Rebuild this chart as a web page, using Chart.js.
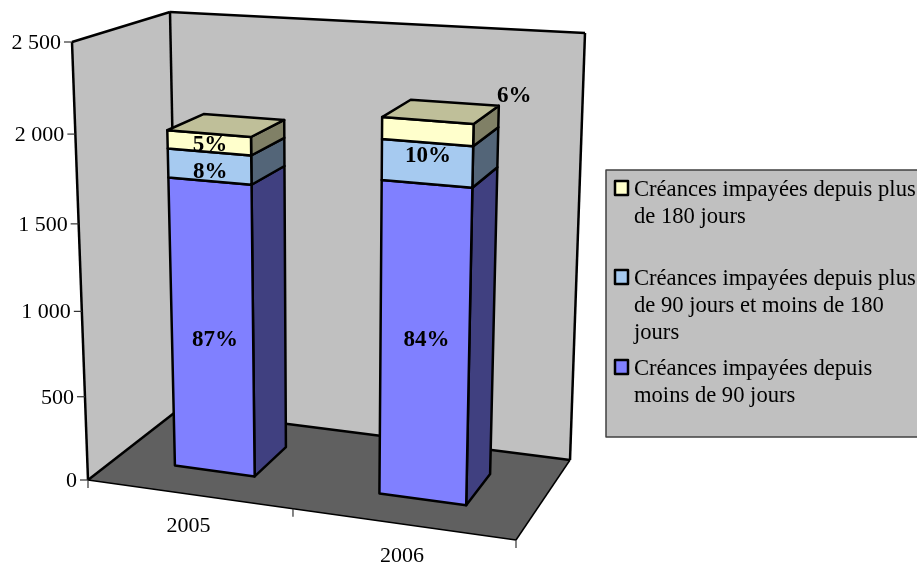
<!DOCTYPE html>
<html lang="fr">
<head>
<meta charset="utf-8">
<title>Créances impayées</title>
<style>
  html, body { margin: 0; background: #fff; overflow: hidden; }
  canvas { display: block; }
</style>
</head>
<body>
<canvas id="chart" width="917" height="562"></canvas>
<script src="https://cdn.jsdelivr.net/npm/chart.js@4"></script>
<script>
// Chart data

const years = ["2005", "2006"];
const under90 = [1713, 1802];
const from90to180 = [164, 224];
const over180 = [103, 119];
const tickLabels = ["0", "500", "1 000", "1 500", "2 000", "2 500"];

const legendUnder90 = ["Créances impayées depuis", "moins de 90 jours"];
const legendFrom90to180 = ["Créances impayées depuis plus", "de 90 jours et moins de 180", "jours"];
const legendOver180 = ["Créances impayées depuis plus", "de 180 jours"];


// Box geometry: corners of the floor and of the ceiling (front-left, front-right, back-right, back-left)

const FLOOR = [[88, 480], [516, 540], [570, 460], [178, 410]];
const CEIL = [[72, 42], [528, 75], [585, 33], [170, 12]];
const U_PERSPECTIVE = 1.088;
const V_PERSPECTIVE = 1.065;
const BAR_FRONT = 0.32;
const BAR_BACK = 0.72;
const FONT = '"Liberation Serif", "Times New Roman", serif';

function warp(t, k) {
  return t / (t + k * (1 - t));
}

function mix(a, b, t) {
  return [a[0] + (b[0] - a[0]) * t, a[1] + (b[1] - a[1]) * t];
}

// u: left to right, v: bottom to top, w: front to back, all 0..1
function project(u, v, w) {
  const uu = warp(u, U_PERSPECTIVE);
  const vv = warp(v, V_PERSPECTIVE);
  const low = mix(mix(FLOOR[0], FLOOR[1], uu), mix(FLOOR[3], FLOOR[2], uu), w);
  const high = mix(mix(CEIL[0], CEIL[1], uu), mix(CEIL[3], CEIL[2], uu), w);
  return mix(low, high, vv);
}

function quad(ctx, pts, fill, lineWidth) {
  ctx.beginPath();
  pts.forEach((p, i) => (i ? ctx.lineTo(p[0], p[1]) : ctx.moveTo(p[0], p[1])));
  ctx.closePath();
  ctx.fillStyle = fill;
  ctx.fill();
  if (lineWidth) {
    ctx.lineWidth = lineWidth;
    ctx.strokeStyle = "#000";
    ctx.stroke();
  }
}

function line(ctx, a, b, lineWidth, color) {
  ctx.beginPath();
  ctx.moveTo(a[0], a[1]);
  ctx.lineTo(b[0], b[1]);
  ctx.lineWidth = lineWidth;
  ctx.strokeStyle = color || "#000";
  ctx.stroke();
}


// Walls, floor, axes

function drawBox(chart) {
  const ctx = chart.ctx;
  const [fl, fr, br, bl] = FLOOR;
  const [tl, , tr, tb] = CEIL;

  quad(ctx, [tl, tb, bl, fl], "#C0C0C0");
  quad(ctx, [tb, tr, br, bl], "#C0C0C0");
  quad(ctx, [fl, fr, br, bl], "#606060");

  line(ctx, tl, tb, 2.5);
  line(ctx, tb, tr, 2.5);
  line(ctx, tr, br, 2.5);
  line(ctx, tl, fl, 2.5);
  line(ctx, tb, bl, 2.5);
  line(ctx, fl, bl, 2.5);
  line(ctx, bl, br, 2.5);
  line(ctx, br, fr, 1.5);
  line(ctx, fl, fr, 1.5);

  const xScale = chart.scales.x;
  const yScale = chart.scales.y;
  const area = chart.chartArea;

  ctx.font = "22px " + FONT;
  ctx.textAlign = "right";
  ctx.textBaseline = "middle";
  yScale.ticks.forEach((tick) => {
    const v = (area.bottom - yScale.getPixelForValue(tick.value)) / area.height;
    const p = project(0, v, 0);
    line(ctx, [p[0] - 8, p[1]], p, 1.2, "#333");
    ctx.fillStyle = "#000";
    ctx.fillText(tick.label, p[0] - 11, p[1] + 1);
  });

  [0, 0.5, 1].forEach((u) => {
    const p = project(u, 0, 0);
    line(ctx, p, [p[0], p[1] + 8], 1.2, "#333");
  });

  ctx.fillStyle = "#000";
  ctx.textAlign = "center";
  xScale.ticks.forEach((tick, i) => {
    const u = (xScale.getPixelForTick(i) - area.left) / area.width;
    const p = project(u, 0, 0);
    ctx.fillText(tick.label, p[0], p[1] + 32);
  });
}


// 3D bars, built on the bar elements computed by Chart.js

function drawBars(chart) {
  const ctx = chart.ctx;
  const area = chart.chartArea;
  const toU = (px) => (px - area.left) / area.width;
  const toV = (py) => (area.bottom - py) / area.height;

  ctx.lineJoin = "round";
  years.forEach((_, i) => {
    chart.data.datasets.forEach((ds, d) => {
      const bar = chart.getDatasetMeta(d).data[i];
      const u0 = toU(bar.x - bar.width / 2);
      const u1 = toU(bar.x + bar.width / 2);
      const v0 = toV(bar.base);
      const v1 = toV(bar.y);

      quad(ctx, [project(u1, v0, BAR_FRONT), project(u1, v0, BAR_BACK), project(u1, v1, BAR_BACK), project(u1, v1, BAR_FRONT)], ds.sideColor, 2.5);
      quad(ctx, [project(u0, v0, BAR_FRONT), project(u1, v0, BAR_FRONT), project(u1, v1, BAR_FRONT), project(u0, v1, BAR_FRONT)], ds.backgroundColor, 2.5);
      if (d === chart.data.datasets.length - 1) {
        quad(ctx, [project(u0, v1, BAR_FRONT), project(u1, v1, BAR_FRONT), project(u1, v1, BAR_BACK), project(u0, v1, BAR_BACK)], ds.topColor, 2.5);
      }
    });
  });
}


// Percent labels, nudged off the centre of the front face where they sit better

const labelNudge = [
  [[3, 11], [2, -5]],
  [[1, 6], [1, -7]],
  [[1, 2], [87, -36]],
];

function drawLabels(chart) {
  const ctx = chart.ctx;
  const area = chart.chartArea;
  ctx.fillStyle = "#000";
  ctx.font = "bold 23px " + FONT;
  ctx.textAlign = "center";
  ctx.textBaseline = "middle";
  years.forEach((_, i) => {
    const total = chart.data.datasets.reduce((sum, ds) => sum + ds.data[i], 0);
    chart.data.datasets.forEach((ds, d) => {
      const bar = chart.getDatasetMeta(d).data[i];
      const u = (bar.x - area.left) / area.width;
      const v = (area.bottom - (bar.y + bar.base) / 2) / area.height;
      const p = project(u, v, BAR_FRONT);
      const nudge = labelNudge[d][i];
      ctx.fillText(Math.round((ds.data[i] / total) * 100) + "%", p[0] + nudge[0], p[1] + nudge[1]);
    });
  });
}


// Legend

const LEGEND_ROWS = [
  { dataset: 2, baseline: 196 },
  { dataset: 1, baseline: 285 },
  { dataset: 0, baseline: 375 },
];

function drawLegend(chart) {
  const ctx = chart.ctx;
  ctx.fillStyle = "#C0C0C0";
  ctx.fillRect(606, 170, 320, 267);
  ctx.lineWidth = 1.5;
  ctx.strokeStyle = "#404040";
  ctx.strokeRect(606, 170, 320, 267);

  ctx.font = "22.6px " + FONT;
  ctx.textAlign = "left";
  ctx.textBaseline = "alphabetic";
  LEGEND_ROWS.forEach((row) => {
    const ds = chart.data.datasets[row.dataset];
    ctx.fillStyle = ds.backgroundColor;
    ctx.fillRect(615, row.baseline - 15, 13, 14);
    ctx.lineWidth = 2.5;
    ctx.strokeStyle = "#000";
    ctx.strokeRect(615, row.baseline - 15, 13, 14);

    ctx.fillStyle = "#000";
    ds.lines.forEach((text, n) => {
      ctx.fillText(text, 634, row.baseline + n * 27);
    });
  });
}


const box3d = {
  id: "box3d",
  beforeDatasetsDraw(chart) {
    drawBox(chart);
    drawBars(chart);
    drawLabels(chart);
    drawLegend(chart);
    return false;
  },
};

new Chart(document.getElementById("chart"), {
  type: "bar",
  data: {
    labels: years,
    datasets: [
      { label: legendUnder90.join(" "), lines: legendUnder90, data: under90, backgroundColor: "#8080FF", sideColor: "#404080", topColor: "#6060C0" },
      { label: legendFrom90to180.join(" "), lines: legendFrom90to180, data: from90to180, backgroundColor: "#A6CAF0", sideColor: "#536578", topColor: "#7D98B4" },
      { label: legendOver180.join(" "), lines: legendOver180, data: over180, backgroundColor: "#FFFFCC", sideColor: "#808066", topColor: "#BFBF99" },
    ],
  },
  options: {
    responsive: false,
    animation: false,
    barPercentage: 0.4,
    categoryPercentage: 1,
    plugins: {
      legend: { display: false },
      tooltip: { enabled: false },
    },
    scales: {
      x: { stacked: true, display: false },
      y: {
        stacked: true,
        display: false,
        min: 0,
        max: 2500,
        ticks: { stepSize: 500, callback: (value, index) => tickLabels[index] },
      },
    },
  },
  plugins: [box3d],
});
</script>
</body>
</html>
